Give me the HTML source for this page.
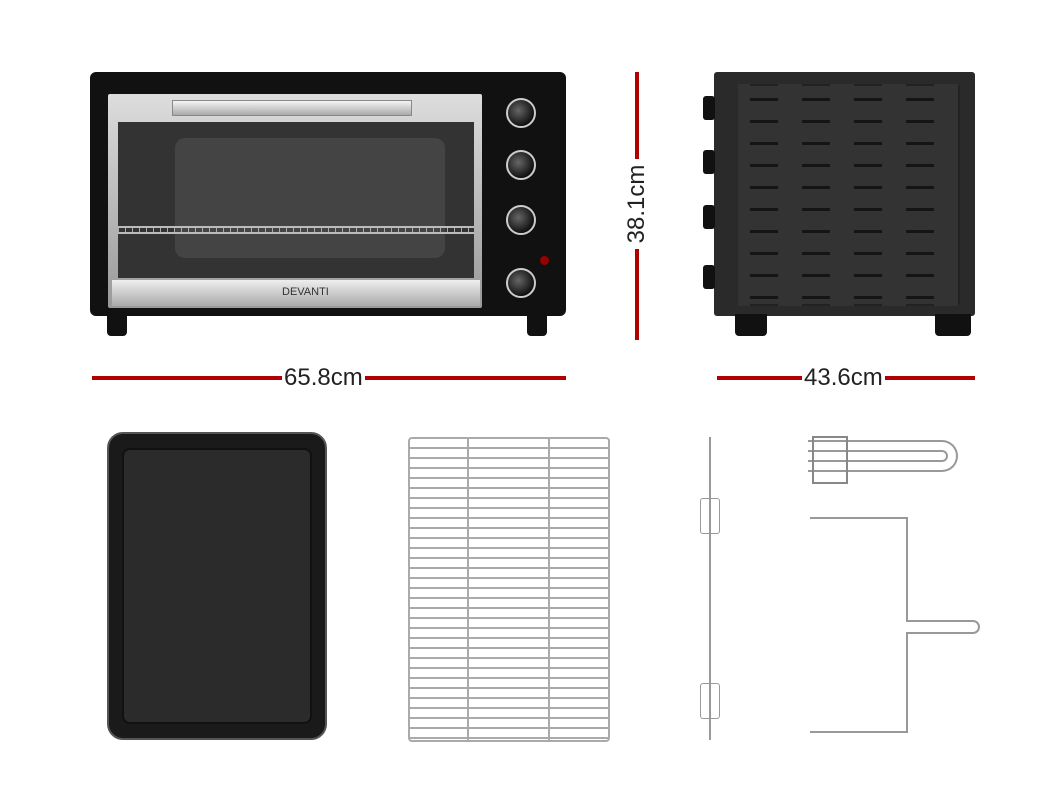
<!DOCTYPE html>
<html><head><style>
body{margin:0;width:1050px;height:786px;background:#fff;position:relative;overflow:hidden;font-family:"Liberation Sans",sans-serif}
div{position:absolute;box-sizing:border-box}
.knob{width:30px;height:30px;border-radius:50%;background:radial-gradient(circle at 40% 40%,#666,#111 70%);border:2px solid #ccc;left:506px}
.red{background:#b00000}
.lbl{font-size:24px;color:#222;background:#fff;padding:0 2px}
.foot{background:#111;border-radius:0 0 4px 4px}
</style></head><body>
<div style="left:90px;top:72px;width:476px;height:244px;background:#111;border-radius:6px"></div>
<div style="left:108px;top:94px;width:374px;height:214px;background:linear-gradient(#ddd,#999);border-radius:2px"></div>
<div style="left:118px;top:122px;width:356px;height:156px;background:#333"></div>
<div style="left:175px;top:138px;width:270px;height:120px;background:#444;border-radius:10px"></div>
<div style="left:172px;top:100px;width:240px;height:16px;background:linear-gradient(#f4f4f4,#aaa);border:1px solid #888"></div>
<div style="left:118px;top:226px;width:356px;height:8px;border-top:2px solid #bbb;border-bottom:2px solid #bbb;background:repeating-linear-gradient(90deg,#aaa 0 1px,transparent 1px 7px)"></div>
<div style="left:112px;top:280px;width:368px;height:26px;background:linear-gradient(#eee,#aaa)"></div>
<div style="left:282px;top:286px;font-size:11px;color:#333">DEVANTI</div>
<div class="knob" style="top:98px"></div>
<div class="knob" style="top:150px"></div>
<div class="knob" style="top:205px"></div>
<div class="knob" style="top:268px"></div>
<div style="left:540px;top:256px;width:9px;height:9px;border-radius:50%;background:#900"></div>
<div class="foot" style="left:107px;top:314px;width:20px;height:22px"></div>
<div class="foot" style="left:527px;top:314px;width:20px;height:22px"></div>
<div class="red" style="left:635px;top:72px;width:4px;height:268px"></div>
<div class="lbl" style="left:592px;top:190px;transform:rotate(-90deg);transform-origin:center;width:90px;text-align:center">38.1cm</div>
<div style="left:714px;top:72px;width:261px;height:244px;background:#2a2a2a;border-radius:3px"></div>
<div style="left:738px;top:84px;width:222px;height:222px;background:#333;border:2px solid #222;border-radius:4px;background-image:repeating-linear-gradient(180deg,transparent 0 12px,#151515 12px 15px,transparent 15px 22px)"></div>
<div style="left:738px;top:84px;width:222px;height:222px;background:repeating-linear-gradient(90deg,#333 0 12px,transparent 12px 40px,#333 40px 52px)"></div>
<div style="left:703px;top:96px;width:12px;height:24px;background:#111;border-radius:3px"></div>
<div style="left:703px;top:150px;width:12px;height:24px;background:#111;border-radius:3px"></div>
<div style="left:703px;top:205px;width:12px;height:24px;background:#111;border-radius:3px"></div>
<div style="left:703px;top:265px;width:12px;height:24px;background:#111;border-radius:3px"></div>
<div class="foot" style="left:735px;top:314px;width:32px;height:22px"></div>
<div class="foot" style="left:935px;top:314px;width:36px;height:22px"></div>
<div class="red" style="left:92px;top:376px;width:474px;height:4px"></div>
<div class="lbl" style="left:282px;top:364px">65.8cm</div>
<div class="red" style="left:717px;top:376px;width:258px;height:4px"></div>
<div class="lbl" style="left:802px;top:364px">43.6cm</div>
<div style="left:107px;top:432px;width:220px;height:308px;background:#1a1a1a;border-radius:16px;border:2px solid #555"></div>
<div style="left:122px;top:448px;width:190px;height:276px;background:#2b2b2b;border-radius:8px;border:2px solid #111"></div>
<div style="left:408px;top:437px;width:202px;height:305px;border:2px solid #aaa;border-radius:4px;background:repeating-linear-gradient(180deg,transparent 0 8px,#aaa 8px 10px)"></div>
<div style="left:467px;top:437px;width:2px;height:305px;background:#aaa"></div>
<div style="left:548px;top:437px;width:2px;height:305px;background:#aaa"></div>
<div style="left:709px;top:437px;width:2px;height:303px;background:#999"></div>
<div style="left:700px;top:498px;width:20px;height:36px;border:1px solid #999;border-radius:3px"></div>
<div style="left:700px;top:683px;width:20px;height:36px;border:1px solid #999;border-radius:3px"></div>
<div style="left:808px;top:440px;width:150px;height:32px;border:2px solid #999;border-left:none;border-radius:0 16px 16px 0"></div>
<div style="left:808px;top:450px;width:140px;height:12px;border:2px solid #999;border-left:none;border-radius:0 6px 6px 0"></div>
<div style="left:812px;top:436px;width:36px;height:48px;border:2px solid #888"></div>
<div style="left:810px;top:517px;width:98px;height:2px;background:#999"></div>
<div style="left:906px;top:517px;width:2px;height:105px;background:#999"></div>
<div style="left:906px;top:620px;width:74px;height:14px;border:2px solid #999;border-left:none;border-radius:0 7px 7px 0"></div>
<div style="left:906px;top:633px;width:2px;height:100px;background:#999"></div>
<div style="left:810px;top:731px;width:98px;height:2px;background:#999"></div>
</body></html>
